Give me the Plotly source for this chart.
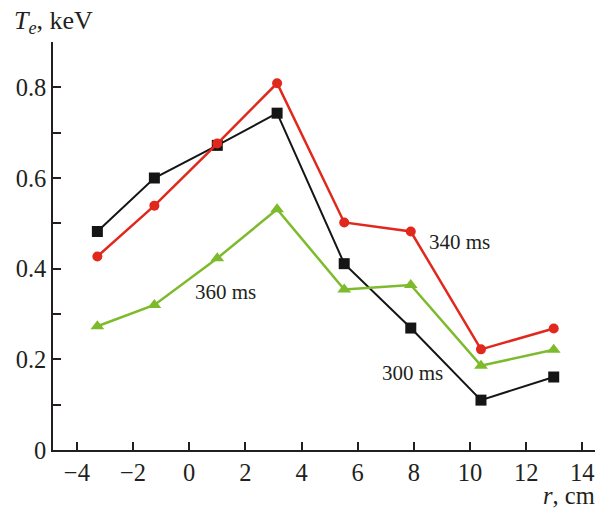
import plotly.graph_objects as go

r_cm = [-3.27, -1.24, 1.0, 3.13, 5.52, 7.89, 10.39, 12.98]
te_300 = [0.482, 0.600, 0.672, 0.743, 0.411, 0.269, 0.110, 0.161]
te_340 = [0.427, 0.539, 0.676, 0.809, 0.502, 0.482, 0.222, 0.268]
te_360 = [0.273, 0.320, 0.423, 0.531, 0.354, 0.364, 0.186, 0.221]

y_tickvals = [0, 0.2, 0.4, 0.6, 0.8]
y_ticktext = ["0", "0.2", "0.4", "0.6", "0.8"]
y_minor = [0.1, 0.3, 0.5, 0.7, 0.9]
x_tickvals = [-4, -2, 0, 2, 4, 6, 8, 10, 12, 14]

BLACK = "#151515"
RED = "#e1281d"
GREEN = "#7dbb2c"
TXT = "#231f20"
FONT = "Liberation Serif"

fig = go.Figure()
fig.add_trace(go.Scatter(x=r_cm, y=te_300, mode="lines+markers", name="300 ms",
                         line=dict(color=BLACK, width=2),
                         marker=dict(symbol="square", size=11, color=BLACK)))
fig.add_trace(go.Scatter(x=r_cm, y=te_360, mode="lines+markers", name="360 ms",
                         line=dict(color=GREEN, width=2.5),
                         marker=dict(symbol="triangle-up", size=12, color=GREEN)))
fig.add_trace(go.Scatter(x=r_cm, y=te_340, mode="lines+markers", name="340 ms",
                         line=dict(color=RED, width=2.5),
                         marker=dict(symbol="circle", size=10, color=RED)))

labels = [("340 ms", 9.63, 0.458), ("300 ms", 7.94, 0.169), ("360 ms", 1.3, 0.348)]
for txt, xx, yy in labels:
    fig.add_annotation(x=xx, y=yy, text=txt, showarrow=False, xref="x", yref="y",
                       font=dict(family=FONT, size=21, color=TXT))

fig.update_layout(
    width=602, height=508,
    margin=dict(l=53, r=7, t=42, b=58),
    paper_bgcolor="white", plot_bgcolor="white",
    showlegend=False,
    font=dict(family=FONT, size=24.5, color=TXT),
    xaxis=dict(range=[-4.85, 14.45], tickvals=x_tickvals, ticks="inside", ticklen=8,
               tickwidth=1.5, tickcolor=TXT, showline=True, linecolor=TXT,
               linewidth=1.5, showgrid=False, zeroline=False, automargin=False,
               tickfont=dict(family=FONT, size=24.5, color=TXT)),
    yaxis=dict(range=[0, 0.9], tickvals=y_tickvals, ticktext=y_ticktext, ticks="inside",
               ticklen=8, tickwidth=1.5, tickcolor=TXT, showline=True,
               linecolor=TXT, linewidth=1.5, showgrid=False, zeroline=False,
               automargin=False,
               minor=dict(tickvals=y_minor, ticks="inside", ticklen=8,
                          tickwidth=1.5, tickcolor=TXT, showgrid=False),
               tickfont=dict(family=FONT, size=24.5, color=TXT)),
)
fig.add_annotation(x=0, y=1, xref="paper", yref="paper", xanchor="left", yanchor="bottom",
                   xshift=-41, yshift=2, showarrow=False,
                   text="<i>T<sub>e</sub></i>, keV",
                   font=dict(family=FONT, size=26, color=TXT))
fig.add_annotation(x=1, y=0, xref="paper", yref="paper", xanchor="right", yanchor="top",
                   xshift=2, yshift=-30, showarrow=False,
                   text="<i>r</i>, cm",
                   font=dict(family=FONT, size=24.5, color=TXT))

fig.write_html("out.html", config={"displayModeBar": False},
               post_script="document.body.style.margin='0';document.body.style.overflow='hidden';")
